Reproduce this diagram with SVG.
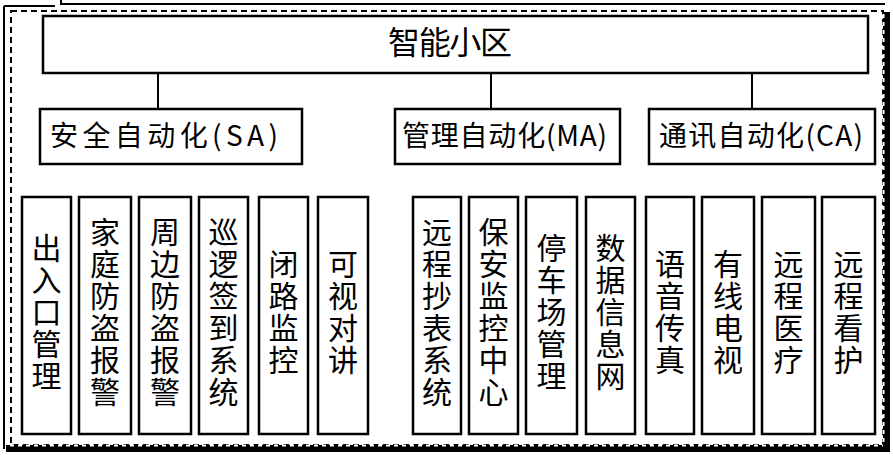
<svg xmlns="http://www.w3.org/2000/svg" width="893" height="456" viewBox="0 0 893 456">
<style>
.box{fill:#fff;stroke:#000;stroke-width:2.5}
.lbl{font-family:"Noto Sans CJK SC","Noto Sans",sans-serif;fill:#000}
.v{font-size:30px;text-anchor:middle;writing-mode:vertical-rl;letter-spacing:2px}
.h2{font-size:28px}
.line{stroke:#000;stroke-width:2;fill:none}
</style>
<rect width="893" height="456" fill="#fff"/>
<g id="frame">
<path d="M4,6 H55 M61,0 V4 H885 M4,6 V449" class="line"/>
<rect x="11" y="11" width="872" height="434" fill="none" stroke="#000" stroke-width="2" stroke-dasharray="6 4"/>
<rect x="883" y="12" width="7" height="440" fill="#000"/>
<rect x="6" y="445" width="884" height="7" fill="#000"/>
<path d="M10,445.5 H883" stroke="#fff" stroke-width="2" stroke-dasharray="4 4"/>
<path d="M883.5,14 V445" stroke="#fff" stroke-width="2" stroke-dasharray="4 4"/>
</g>
<g id="connectors">
<line x1="158" y1="73" x2="158" y2="109" class="line"/>
<line x1="491" y1="73" x2="491" y2="109" class="line"/>
<line x1="752" y1="73" x2="752" y2="109" class="line"/>
</g>
<g id="root">
<rect class="box" x="43" y="16" width="825" height="57"/>
<text class="lbl" x="388" y="54" font-size="32" textLength="124" lengthAdjust="spacing">智能小区</text>
</g>
<g id="sa">
<rect class="box" x="40" y="109" width="262" height="55"/>
<text class="lbl h2" x="50" y="146" textLength="228" lengthAdjust="spacing">安全自动化(SA)</text>
</g>
<g id="ma">
<rect class="box" x="395" y="109" width="225" height="55"/>
<text class="lbl h2" x="402" y="146" textLength="205" lengthAdjust="spacing">管理自动化(MA)</text>
</g>
<g id="ca">
<rect class="box" x="649" y="109" width="226" height="55"/>
<text class="lbl h2" x="659" y="146" textLength="204" lengthAdjust="spacing">通讯自动化(CA)</text>
</g>
<g id="n1"><rect class="box" x="22" y="197" width="49" height="237"/><text class="lbl v" x="46.5" y="313">出入口管理</text></g>
<g id="n2"><rect class="box" x="79" y="197" width="52" height="237"/><text class="lbl v" x="105" y="313">家庭防盗报警</text></g>
<g id="n3"><rect class="box" x="139" y="197" width="52" height="237"/><text class="lbl v" x="165" y="313">周边防盗报警</text></g>
<g id="n4"><rect class="box" x="199" y="197" width="49" height="237"/><text class="lbl v" x="223.5" y="313">巡逻签到系统</text></g>
<g id="n5"><rect class="box" x="259" y="197" width="49" height="237"/><text class="lbl v" x="283.5" y="313">闭路监控</text></g>
<g id="n6"><rect class="box" x="318" y="197" width="50" height="237"/><text class="lbl v" x="343" y="313">可视对讲</text></g>
<g id="n7"><rect class="box" x="413" y="197" width="48" height="237"/><text class="lbl v" x="437" y="313">远程抄表系统</text></g>
<g id="n8"><rect class="box" x="469" y="197" width="49" height="237"/><text class="lbl v" x="493.5" y="313">保安监控中心</text></g>
<g id="n9"><rect class="box" x="526" y="197" width="51" height="237"/><text class="lbl v" x="551.5" y="313">停车场管理</text></g>
<g id="n10"><rect class="box" x="586" y="197" width="49" height="237"/><text class="lbl v" x="610.5" y="313">数据信息网</text></g>
<g id="n11"><rect class="box" x="646" y="197" width="48" height="237"/><text class="lbl v" x="670" y="313">语音传真</text></g>
<g id="n12"><rect class="box" x="702" y="197" width="52" height="237"/><text class="lbl v" x="728" y="313">有线电视</text></g>
<g id="n13"><rect class="box" x="762" y="197" width="53" height="237"/><text class="lbl v" x="788.5" y="313">远程医疗</text></g>
<g id="n14"><rect class="box" x="822" y="197" width="53" height="237"/><text class="lbl v" x="848.5" y="313">远程看护</text></g>
</svg>
